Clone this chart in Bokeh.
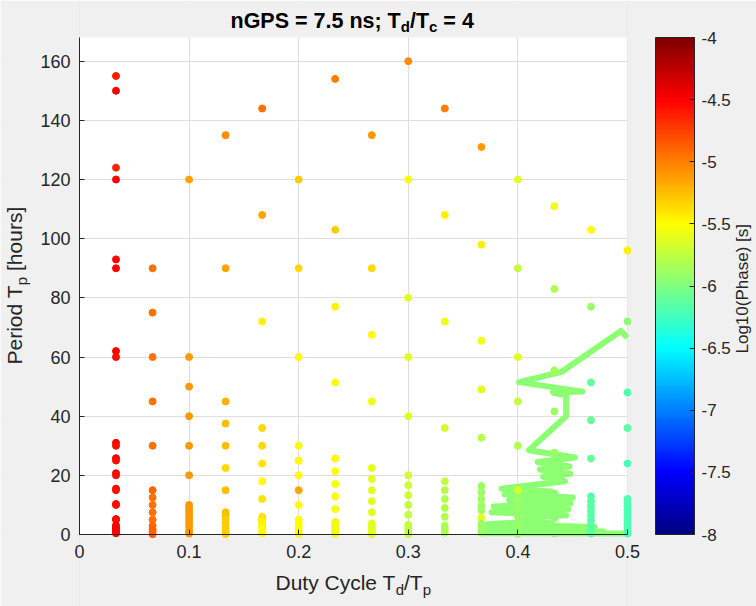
from bokeh.plotting import figure
from bokeh.models import (ColumnDataSource, LinearColorMapper, ColorBar, Label,
                          FixedTicker, CustomJSTickFormatter, Range1d, BoxAnnotation)
from bokeh.transform import transform
from bokeh.embed import file_html
from bokeh.resources import INLINE

# ---------------- data ----------------
duty_cycle = [0.0333, 0.0667, 0.1, 0.1333, 0.1667, 0.2, 0.2333, 0.2667,
              0.3, 0.3333, 0.3667, 0.4, 0.4333, 0.4667, 0.5]

period_01 = [155, 150, 124, 120, 93, 90, 62, 60, 31, 30, 25.8, 25, 20.7, 20,
             15.5, 15, 10.3, 10, 5.2, 5, 3.1, 2.5, 2, 1.5, 1, 0.4]
phase_01 = [-4.6, -4.5, -4.65, -4.5, -4.5, -4.5, -4.5, -4.55, -4.5, -4.55, -4.5,
            -4.55, -4.5, -4.55, -4.5, -4.55, -4.5, -4.55, -4.5, -4.55, -4.5,
            -4.5, -4.5, -4.5, -4.5, -4.5]
period_02 = [90, 75, 60, 45, 30, 15, 12.5, 10, 7.5, 5, 2.9, 1.8, 0.9, 0.1]
phase_02 = [-4.95, -4.95, -4.95, -4.95, -4.95, -4.9, -4.95, -4.95, -4.95,
            -4.95, -4.9, -4.9, -4.9, -4.9]
period_03 = [120, 60, 50, 40, 30, 20, 10, 8.75, 7.5, 6.25, 5, 3.75, 2.5, 1.25, 0.3]
phase_03 = [-5.15, -5.1, -5.1, -5.1, -5.1, -5.1, -5.1, -5.1, -5.1, -5.1,
            -5.1, -5.1, -5.1, -5.1, -5.1]
period_04 = [135, 90, 45, 37.5, 30, 22.5, 15, 7.5, 6.2, 5, 3.7, 2.2, 1, 0.2]
phase_04 = [-5.05, -5.15, -5.2, -5.25, -5.25, -5.35, -5.25, -5.25, -5.25,
            -5.3, -5.3, -5.3, -5.3, -5.3]
period_05 = [144, 108, 72, 36, 30, 24, 18, 12, 6, 5.2, 4.4, 3.6, 2.8, 2, 1.2, 0.4]
phase_05 = [-4.95, -5.15, -5.45, -5.35, -5.35, -5.4, -5.5, -5.4, -5.4, -5.4,
            -5.45, -5.45, -5.45, -5.5, -5.5, -5.5]
period_06 = [120, 90, 60, 30, 25, 20, 15, 10, 5, 4, 3, 2, 1, 0.2]
phase_06 = [-5.3, -5.35, -5.5, -5.48, -5.5, -5.5, -5.15, -5.5, -5.5, -5.5,
            -5.5, -5.5, -5.5, -5.5]
period_07 = [154, 103, 77, 51.4, 25.7, 21.4, 17.1, 12.9, 8.6, 4.3, 3.4, 2.6, 1.7, 0.9, 0.2]
phase_07 = [-5.0, -5.3, -5.45, -5.5, -5.5, -5.5, -5.52, -5.52, -5.52, -5.55,
            -5.55, -5.55, -5.55, -5.55, -5.55]
period_08 = [135, 90, 67.5, 45, 22.5, 18.75, 15, 11.25, 7.5, 3.75, 3, 2.25, 1.5, 0.75, 0.1]
phase_08 = [-5.1, -5.35, -5.5, -5.55, -5.6, -5.62, -5.62, -5.62, -5.62, -5.62,
            -5.62, -5.62, -5.62, -5.62, -5.62]
period_09 = [160, 120, 80, 60, 40, 20, 16.7, 13.3, 10, 6.7, 3.3, 2.5, 1.7, 0.8, 0.1]
phase_09 = [-5.05, -5.5, -5.62, -5.62, -5.65, -5.68, -5.7, -5.7, -5.75, -5.75,
            -5.75, -5.75, -5.75, -5.75, -5.75]
period_10 = [144, 108, 72, 36, 18, 15, 12, 9, 6, 3, 1.8, 0.6]
phase_10 = [-5.0, -5.45, -5.55, -5.68, -5.75, -5.8, -5.8, -5.8, -5.8, -5.82,
            -5.82, -5.82]
period_11 = [131, 98, 65.5, 49, 32.7, 16.4, 14.2, 12, 9.8, 8.2, 5.7, 3.7, 2.6, 1.5, 0.6]
phase_11 = [-5.1, -5.45, -5.55, -5.62, -5.8, -5.88, -5.88, -5.88, -5.88, -5.88,
            -5.62, -5.88, -5.9, -5.9, -5.9]
period_12 = [120, 90, 60, 45, 30, 15, 12, 9, 6, 3, 1.5, 0.2]
phase_12 = [-5.62, -5.72, -5.62, -5.75, -5.8, -5.65, -5.9, -5.9, -5.9, -5.9,
            -5.92, -5.92]
period_13 = [111, 83, 55.5, 41.6, 27.7, 13.9, 11.1, 8.3, 5.5, 2.8, 0.3]
phase_13 = [-5.55, -5.82, -5.85, -5.9, -5.9, -5.95, -5.95, -5.95, -5.95, -5.95, -5.95]
period_14 = [103, 77, 51.4, 38.6, 25.7, 12.9, 11.2, 9.6, 8, 6.4, 4.8, 3.2, 1.6, 0.3]
phase_14 = [-5.5, -5.9, -6.12, -6.1, -6.1, -6.15, -6.15, -6.15, -6.15, -6.15,
            -6.15, -6.15, -6.15, -6.15]
period_15 = [96, 72, 48, 36, 24, 12, 10.8, 9.6, 8.4, 7.2, 6, 4.8, 3.6, 2.4, 1.2, 0.3]
phase_15 = [-5.45, -5.95, -6.2, -6.15, -6.2, -6.2, -6.2, -6.2, -6.2, -6.2,
            -6.2, -6.2, -6.2, -6.2, -6.2, -6.2]

# thick boundary trace
line_duty = [0.500, 0.494, 0.440, 0.401, 0.459, 0.432, 0.444, 0.444, 0.410, 0.452,
             0.418, 0.447, 0.420, 0.448, 0.423, 0.443, 0.385, 0.430, 0.388, 0.450,
             0.392, 0.448, 0.378, 0.446, 0.376, 0.444, 0.405, 0.430, 0.372, 0.470,
             0.368, 0.478, 0.370, 0.500]
line_period = [66.5, 68.8, 55.0, 51.5, 48.3, 48.0, 47.0, 40.0, 28.5, 26.0,
               24.5, 23.0, 22.0, 20.5, 19.5, 18.0, 15.5, 14.5, 13.5, 12.5,
               11.5, 10.5, 9.5, 8.5, 7.5, 6.5, 5.5, 4.5, 3.5, 2.5,
               1.5, 1.0, 0.4, 0.3]
line_phase = -5.95

x_ticks = [0, 0.1, 0.2, 0.3, 0.4, 0.5]
y_ticks = [0, 20, 40, 60, 80, 100, 120, 140, 160]
cbar_ticks = [-8, -7.5, -7, -6.5, -6, -5.5, -5, -4.5, -4]
x_lim = (0, 0.5)
y_lim = (0, 168)
phase_low, phase_high = -8, -4

# ---------------- layout constants (pixels) ----------------
W, H = 756, 606
AX_L, AX_R, AX_T, AX_B = 79, 627, 37, 534   # plot box in canvas pixels
kx = (AX_R - AX_L) / (x_lim[1] - x_lim[0])
ky = (AX_B - AX_T) / (y_lim[1] - y_lim[0])
xr = Range1d(x_lim[0] - AX_L / kx, x_lim[0] + (W - AX_L) / kx)
yr = Range1d(y_lim[0] - (H - AX_B) / ky, y_lim[0] + AX_B / ky)

# ---------------- build ----------------
periods = [period_01, period_02, period_03, period_04, period_05, period_06, period_07,
           period_08, period_09, period_10, period_11, period_12, period_13, period_14,
           period_15]
phases = [phase_01, phase_02, phase_03, phase_04, phase_05, phase_06, phase_07,
          phase_08, phase_09, phase_10, phase_11, phase_12, phase_13, phase_14, phase_15]
xs, ys, vs = [], [], []
for d, per, ph in zip(duty_cycle, periods, phases):
    for yv, cv in zip(per, ph):
        xs.append(d); ys.append(yv); vs.append(cv)


def jet(t):
    c = lambda v: min(max(v, 0.0), 1.0)
    r = c(1.5 - abs(4 * t - 3)); g = c(1.5 - abs(4 * t - 2)); b = c(1.5 - abs(4 * t - 1))
    return "#%02x%02x%02x" % (round(r * 255), round(g * 255), round(b * 255))


jet256 = [jet(i / 255) for i in range(256)]
mapper = LinearColorMapper(palette=jet256, low=phase_low, high=phase_high)
line_color = jet((line_phase - phase_low) / (phase_high - phase_low))

FONT = "Liberation Sans"
DARK = "#262626"
BG = "#f0f0f0"

p = figure(width=W, height=H, output_backend="svg", toolbar_location=None,
           x_range=xr, y_range=yr, min_border=0,
           background_fill_color="white", border_fill_color=BG)
p.outline_line_color = None

fmt = CustomJSTickFormatter(code="return (Math.round(tick*1000)/1000).toString();")
p.xaxis.ticker = FixedTicker(ticks=x_ticks)
p.yaxis.ticker = FixedTicker(ticks=y_ticks)
p.xaxis.fixed_location = y_lim[0]
p.yaxis.fixed_location = x_lim[0]
p.xaxis.bounds = x_lim
p.yaxis.bounds = y_lim
for ax in (p.xaxis[0], p.yaxis[0]):
    ax.formatter = fmt
    ax.major_label_text_font = FONT
    ax.major_label_text_font_size = "18px"
    ax.major_label_text_color = DARK
    ax.axis_line_color = DARK
    ax.major_tick_line_color = DARK
    ax.major_tick_in = 5
    ax.major_tick_out = 0
    ax.minor_tick_line_color = None
p.xaxis.major_label_standoff = 10
p.yaxis.major_label_standoff = 9
p.grid.grid_line_color = "#dedede"

# grey surround so the grid stays inside the axes box
for kw in (dict(right=x_lim[0]), dict(left=x_lim[1]),
           dict(left=x_lim[0], right=x_lim[1], bottom=y_lim[1]),
           dict(left=x_lim[0], right=x_lim[1], top=y_lim[0])):
    p.add_layout(BoxAnnotation(fill_color=BG, fill_alpha=1.0, line_color=None,
                               level="underlay", **kw))

p.line(line_duty, line_period, line_width=6, line_color=line_color, line_join="round")
src = ColumnDataSource(dict(x=xs, y=ys, v=vs))
p.scatter("x", "y", source=src, size=7, fill_color=transform("v", mapper),
          line_color=transform("v", mapper))

cb = ColorBar(color_mapper=mapper, ticker=FixedTicker(ticks=cbar_ticks),
              formatter=CustomJSTickFormatter(code="return String(tick);"),
              width=39, height=AX_B - AX_T, padding=0, margin=0,
              location=(655, H - AX_B),
              major_label_text_font=FONT, major_label_text_font_size="17px",
              major_label_text_color=DARK, major_tick_line_color=DARK,
              major_tick_in=5, major_tick_out=0, minor_tick_line_color=None,
              bar_line_color=DARK, border_line_color=None,
              background_fill_color=None, label_standoff=7)
p.add_layout(cb)

# ------------- text with subscripts -------------
NB = "\u00a0"
W_REG = {' ': 278, NB: 278, '(': 333, ')': 333, '.': 278, '/': 278, ';': 278, '=': 584,
         '[': 278, ']': 278, 'C': 722, 'D': 722, 'G': 778, 'L': 556, 'P': 667, 'S': 667,
         'T': 611, 'a': 556, 'c': 500, 'd': 556, 'e': 556, 'g': 556, 'h': 556, 'i': 222,
         'l': 222, 'n': 556, 'o': 556, 'p': 556, 'r': 333, 's': 500, 't': 278, 'u': 556,
         'y': 500}
W_BOLD = {' ': 278, NB: 278, '.': 278, '/': 278, ';': 333, '=': 584, 'G': 778, 'P': 667,
          'S': 667, 'T': 611, 'c': 556, 'd': 611, 'n': 611, 's': 556}


def text_w(s, size, bold):
    tbl = W_BOLD if bold else W_REG
    return sum(tbl.get(ch, 556) for ch in s) * size / 1000.0


def add_run(pieces, x0, y0, angle=0.0, color=DARK, bold=False):
    """x0, y0: canvas pixels of the baseline start (y measured from the top)."""
    pos = 0.0
    for txt, size, dy in pieces:
        if angle == 0:
            lx, ly = x0 + pos, y0 - dy
        else:
            lx, ly = x0 - dy, y0 - pos
        p.add_layout(Label(x=lx, y=H - ly, x_units="screen", y_units="screen", text=txt,
                           angle=angle, text_font=FONT, text_font_size="%gpx" % size,
                           text_font_style="bold" if bold else "normal",
                           text_color=color, text_align="left",
                           text_baseline="alphabetic"))
        pos += text_w(txt, size, bold)


ROT = 1.5707963267948966
# title
add_run([("nGPS = 7.5 ns; T", 21.5, 0), ("d", 15, -6), ("/T", 21.5, 0), ("c", 15, -6),
         (NB + "= 4", 21.5, 0)], 230, 20, color="black", bold=True)
# x label
add_run([("Duty Cycle T", 21, 0), ("d", 15, -7), ("/T", 21, 0), ("p", 15, -7)], 275, 582)
# y label
add_run([("Period T", 21, 0), ("p", 15, -7), (NB + "[hours]", 21, 0)], 14, 364, angle=ROT)
# colorbar label
add_run([("Log10(Phase) [s]", 17, 0)], 742, 353, angle=ROT)

open("out.html", "w").write(file_html(p, INLINE))
